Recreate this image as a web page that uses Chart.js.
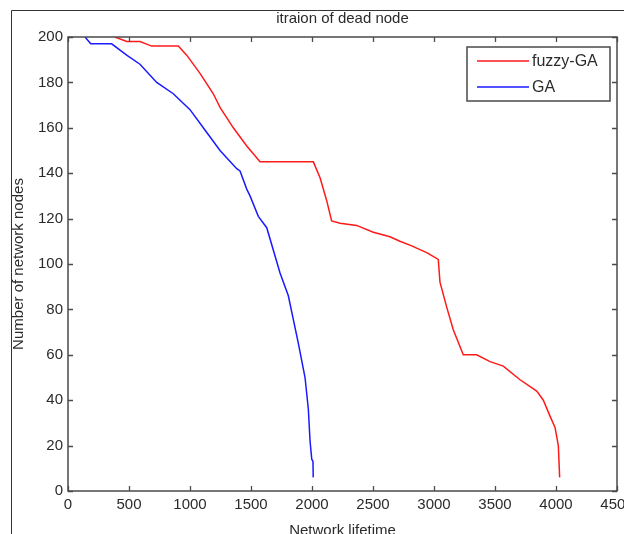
<!DOCTYPE html>
<html>
<head>
<meta charset="utf-8">
<script src="https://cdn.jsdelivr.net/npm/chart.js@4"></script>
<style>
  html, body { margin: 0; padding: 0; background: #fff; }
  canvas { display: block; }
</style>
</head>
<body>
<canvas id="c" width="624" height="534"></canvas>
<script>
// Alive nodes over network lifetime for the two protocols
const fuzzyLifetime = [385, 481, 590, 686, 904, 973, 1082, 1191, 1246, 1355,
                       1465, 1574, 2011, 2066, 2120, 2161, 2230, 2366, 2502, 2639,
                       2721, 2817, 2940, 3035, 3049, 3104, 3158, 3240, 3350, 3459,
                       3568, 3705, 3842, 3896, 3951, 3992, 4019, 4030];
const fuzzyAlive    = [200, 198, 198, 196, 196, 192, 184, 175, 169, 160,
                       152, 145, 145, 138, 128, 119, 118, 117, 114, 112,
                       110, 108, 105, 102, 92, 81, 71, 60, 60, 57,
                       55, 49, 44, 40, 33, 28, 20, 6];

const gaLifetime = [140, 186, 358, 481, 590, 727, 863, 1000, 1109, 1219,
                    1246, 1383, 1410, 1465, 1492, 1560, 1629, 1738, 1806, 1861,
                    1888, 1943, 1970, 1984, 1998, 2008, 2010];
const gaAlive    = [200, 197, 197, 192, 188, 180, 175, 168, 160, 152,
                    150, 142, 141, 133, 130, 121, 116, 96, 86, 72,
                    65, 50, 36, 22, 14, 13, 6];

const xTickValues = [0, 500, 1000, 1500, 2000, 2500, 3000, 3500, 4000, 4500];
const yTickValues = [0, 20, 40, 60, 80, 100, 120, 140, 160, 180, 200];

const seriesNames = ['fuzzy-GA', 'GA'];
const seriesColors = ['#ff1a1a', '#1a1aff'];
const chartTitle = 'itraion of dead node';
const xAxisTitle = 'Network lifetime';
const yAxisTitle = 'Number of network nodes';

const FONT = 'Liberation Sans, Arial, sans-serif';
const INK = '#2b2b2b';
const AXIS = '#4a4a4a';

function toPoints(xs, ys) {
  return xs.map((x, i) => ({ x: x, y: ys[i] }));
}

// Figure frame, full axes box and inward tick marks on every side
const framePlugin = {
  id: 'figureFrame',
  beforeDraw(chart) {
    const ctx = chart.ctx;
    ctx.save();
    ctx.fillStyle = '#fff';
    ctx.fillRect(0, 0, chart.width, chart.height);
    ctx.strokeStyle = '#333';
    ctx.lineWidth = 1;
    ctx.beginPath();
    ctx.moveTo(11.5, chart.height);
    ctx.lineTo(11.5, 10.5);
    ctx.lineTo(chart.width, 10.5);
    ctx.stroke();
    ctx.restore();
  },
  afterDraw(chart) {
    const ctx = chart.ctx;
    const ca = chart.chartArea;
    const xs = chart.scales.x, ys = chart.scales.y;
    ctx.save();
    ctx.strokeStyle = AXIS;
    ctx.lineWidth = 1.5;
    ctx.strokeRect(ca.left, ca.top, ca.right - ca.left, ca.bottom - ca.top);
    ctx.lineWidth = 1.3;
    ctx.beginPath();
    const len = 5;
    xTickValues.forEach(v => {
      const px = Math.round(xs.getPixelForValue(v)) + 0.5;
      ctx.moveTo(px, ca.bottom); ctx.lineTo(px, ca.bottom - len);
      ctx.moveTo(px, ca.top); ctx.lineTo(px, ca.top + len);
    });
    yTickValues.forEach(v => {
      const py = Math.round(ys.getPixelForValue(v)) + 0.5;
      ctx.moveTo(ca.left, py); ctx.lineTo(ca.left + len, py);
      ctx.moveTo(ca.right, py); ctx.lineTo(ca.right - len, py);
    });
    ctx.stroke();

    // boxed legend in the upper right corner of the axes
    const bw = 143, bh = 54;
    const bx = ca.right - 7 - bw, by = ca.top + 10;
    ctx.fillStyle = '#fff';
    ctx.fillRect(bx, by, bw, bh);
    ctx.strokeStyle = AXIS;
    ctx.lineWidth = 1.5;
    ctx.strokeRect(bx, by, bw, bh);
    ctx.font = '16px ' + FONT;
    ctx.textBaseline = 'middle';
    ctx.textAlign = 'left';
    chart.data.datasets.forEach((ds, i) => {
      const ry = by + 14 + i * 26;
      ctx.strokeStyle = ds.borderColor;
      ctx.lineWidth = 1.5;
      ctx.beginPath();
      ctx.moveTo(bx + 10, ry); ctx.lineTo(bx + 62, ry);
      ctx.stroke();
      ctx.fillStyle = INK;
      ctx.fillText(ds.label, bx + 65, ry + 1);
    });
    ctx.restore();
  }
};

new Chart(document.getElementById('c'), {
  type: 'scatter',
  data: {
    datasets: [
      {
        label: seriesNames[0],
        data: toPoints(fuzzyLifetime, fuzzyAlive),
        borderColor: seriesColors[0],
        backgroundColor: seriesColors[0],
        showLine: true, pointRadius: 0, borderWidth: 1.5, tension: 0
      },
      {
        label: seriesNames[1],
        data: toPoints(gaLifetime, gaAlive),
        borderColor: seriesColors[1],
        backgroundColor: seriesColors[1],
        showLine: true, pointRadius: 0, borderWidth: 1.5, tension: 0
      }
    ]
  },
  options: {
    responsive: false,
    animation: false,
    devicePixelRatio: 1,
    layout: { padding: { left: 0, right: 7, top: 0, bottom: 0 } },
    plugins: {
      legend: { display: false },
      tooltip: { enabled: false },
      title: {
        display: true,
        text: chartTitle,
        fullSize: false,
        color: INK,
        font: { family: FONT, size: 15, weight: 'normal', lineHeight: 1.2 },
        padding: { top: 10, bottom: 9 }
      }
    },
    scales: {
      x: {
        type: 'linear',
        min: 0, max: 4500,
        afterBuildTicks: s => { s.ticks = xTickValues.map(v => ({ value: v })); },
        afterFit: s => { s.height = 43; s.paddingLeft = 0; s.paddingRight = 0; },
        grid: { display: false, drawTicks: false },
        border: { display: false },
        ticks: {
          color: INK, padding: 5, maxRotation: 0, autoSkip: false,
          font: { family: FONT, size: 15 },
          callback: v => String(v)
        },
        title: {
          display: true, text: xAxisTitle, color: INK,
          font: { family: FONT, size: 15, lineHeight: 1 },
          padding: { top: 0, bottom: -4 }
        }
      },
      y: {
        type: 'linear',
        min: 0, max: 200,
        afterBuildTicks: s => { s.ticks = yTickValues.map(v => ({ value: v })); },
        afterFit: s => { s.width = 68; s.paddingTop = 0; s.paddingBottom = 0; },
        grid: { display: false, drawTicks: false },
        border: { display: false },
        ticks: {
          color: INK, padding: 5, autoSkip: false,
          font: { family: FONT, size: 15 },
          callback: v => String(v)
        },
        title: {
          display: true, text: yAxisTitle, color: INK,
          font: { family: FONT, size: 15, lineHeight: 1 },
          padding: { top: 11, bottom: 0 }
        }
      }
    }
  },
  plugins: [framePlugin]
});
</script>
</body>
</html>
